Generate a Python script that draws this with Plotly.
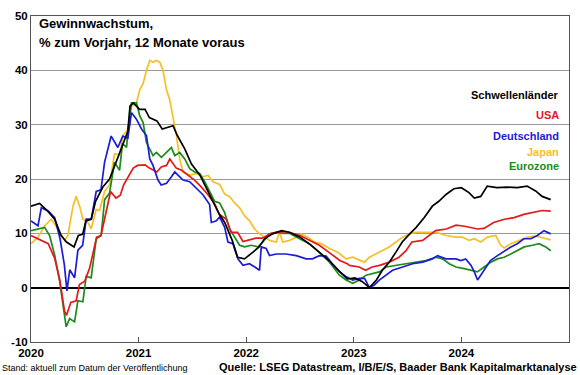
import plotly.graph_objects as go

# ---- data (decimal years, % values) ----
sl_t = [2020.00,2020.08,2020.16,2020.22,2020.28,2020.33,2020.40,2020.44,2020.48,2020.51,2020.56,2020.60,2020.67,2020.73,2020.82,2020.90,2020.92,2020.95,2021.01,2021.06,2021.10,2021.17,2021.22,2021.32,2021.36,2021.43,2021.49,2021.57,2021.63,2021.69,2021.75,2021.80,2021.83,2021.87,2021.92,2021.985,2022.06,2022.12,2022.17,2022.245,2022.33,2022.40,2022.50,2022.59,2022.68,2022.77,2022.87,2022.94,2023.01,2023.08,2023.145,2023.21,2023.265,2023.33,2023.39,2023.45,2023.52,2023.58,2023.655,2023.73,2023.79,2023.86,2023.93,2024.00,2024.07,2024.12,2024.18,2024.24,2024.33,2024.425,2024.52,2024.61,2024.69,2024.75,2024.83]
sl_v = [15.0,15.5,14.0,12.6,9.6,8.4,7.5,9.6,9.8,12.3,12.6,15.9,18.6,20.0,24.6,28.8,33.4,34.0,32.8,32.8,31.3,30.7,29.2,29.8,28.0,25.5,22.8,20.7,18.3,15.9,13.5,12.0,10.5,8.7,5.6,5.3,6.5,7.5,9.0,9.9,10.5,10.2,9.3,8.0,6.5,5.0,2.9,1.6,1.8,1.1,0.0,1.4,3.2,4.7,6.5,8.4,9.9,11.1,12.9,15.0,15.9,17.2,18.2,18.4,17.5,16.5,16.8,18.7,18.4,18.5,18.4,18.7,17.8,16.8,16.2]

us_t = [2020.00,2020.065,2020.16,2020.22,2020.27,2020.31,2020.33,2020.37,2020.42,2020.45,2020.50,2020.545,2020.61,2020.65,2020.70,2020.74,2020.79,2020.83,2020.86,2020.92,2020.95,2020.99,2021.06,2021.10,2021.17,2021.21,2021.26,2021.29,2021.32,2021.35,2021.40,2021.46,2021.52,2021.58,2021.645,2021.71,2021.75,2021.815,2021.86,2021.92,2021.97,2022.03,2022.09,2022.15,2022.22,2022.31,2022.40,2022.50,2022.59,2022.68,2022.77,2022.87,2022.94,2022.96,2023.05,2023.11,2023.17,2023.24,2023.33,2023.42,2023.485,2023.54,2023.64,2023.70,2023.76,2023.86,2023.95,2024.03,2024.09,2024.15,2024.21,2024.30,2024.40,2024.49,2024.58,2024.675,2024.75,2024.83]
us_v = [9.6,9.0,8.1,5.4,1.2,-4.2,-5.1,-2.7,-2.4,0.6,1.2,3.6,9.3,9.6,13.8,17.7,16.5,17.0,18.9,21.0,22.0,22.5,22.6,22.0,21.3,22.2,22.5,23.7,22.8,22.0,21.6,20.7,19.8,18.6,17.1,15.3,13.5,12.6,10.2,10.2,8.5,8.8,9.1,9.1,9.9,10.3,10.2,9.6,8.7,7.8,6.5,5.0,4.4,4.1,3.8,3.2,3.8,4.1,4.7,5.6,6.8,8.4,8.7,9.6,10.5,10.8,11.5,11.3,11.1,10.8,10.9,12.0,12.6,12.9,13.5,13.9,14.2,14.1]

de_t = [2020.00,2020.065,2020.096,2020.16,2020.22,2020.27,2020.31,2020.334,2020.36,2020.405,2020.436,2020.48,2020.513,2020.56,2020.606,2020.65,2020.684,2020.745,2020.807,2020.853,2020.90,2020.934,2020.98,2021.027,2021.073,2021.104,2021.134,2021.18,2021.21,2021.26,2021.305,2021.336,2021.366,2021.413,2021.475,2021.537,2021.598,2021.66,2021.676,2021.723,2021.753,2021.80,2021.83,2021.877,2021.923,2021.97,2022.03,2022.08,2022.124,2022.14,2022.186,2022.217,2022.28,2022.37,2022.465,2022.557,2022.616,2022.68,2022.743,2022.80,2022.866,2022.93,2022.99,2023.05,2023.10,2023.145,2023.19,2023.237,2023.30,2023.36,2023.454,2023.546,2023.64,2023.73,2023.778,2023.856,2023.95,2023.995,2024.04,2024.09,2024.12,2024.15,2024.18,2024.23,2024.27,2024.335,2024.40,2024.46,2024.52,2024.58,2024.645,2024.706,2024.768,2024.83]
de_v = [12.3,11.4,14.7,14.1,12.9,9.0,4.2,-0.6,3.3,1.8,6.9,7.8,12.6,12.6,17.7,18.0,23.1,27.9,25.8,27.9,27.5,32.2,31.0,29.2,28.0,23.7,22.5,19.8,18.9,19.2,20.4,21.3,20.7,19.8,19.5,18.3,17.1,15.3,12.0,12.3,13.0,11.1,8.4,8.1,5.3,4.1,4.4,3.8,3.2,7.5,7.2,5.9,6.2,6.2,5.9,5.3,5.3,5.9,5.8,4.4,3.0,2.0,1.4,1.7,1.7,0.0,0.5,1.4,2.3,3.2,3.8,4.4,4.7,5.3,5.9,5.3,5.3,5.0,5.3,4.1,2.9,1.4,2.3,3.8,5.0,5.9,6.8,7.5,8.1,9.0,9.0,9.6,10.5,9.9]

jp_t = [2020.00,2020.065,2020.127,2020.188,2020.25,2020.313,2020.343,2020.39,2020.42,2020.452,2020.482,2020.529,2020.559,2020.606,2020.637,2020.684,2020.73,2020.776,2020.823,2020.856,2020.90,2020.934,2020.98,2021.011,2021.042,2021.073,2021.104,2021.134,2021.166,2021.197,2021.227,2021.259,2021.289,2021.32,2021.352,2021.382,2021.413,2021.475,2021.537,2021.598,2021.645,2021.691,2021.753,2021.80,2021.846,2021.892,2021.939,2021.985,2022.032,2022.078,2022.124,2022.171,2022.217,2022.279,2022.31,2022.34,2022.403,2022.465,2022.511,2022.572,2022.635,2022.697,2022.774,2022.851,2022.913,2022.929,2022.99,2023.052,2023.099,2023.145,2023.207,2023.268,2023.33,2023.392,2023.454,2023.516,2023.578,2023.671,2023.763,2023.856,2023.949,2024.01,2024.072,2024.119,2024.181,2024.242,2024.319,2024.366,2024.397,2024.459,2024.536,2024.614,2024.691,2024.768,2024.83]
jp_v = [8.1,9.3,11.4,12.6,10.8,8.7,9.6,15.0,16.8,15.0,12.6,12.0,10.8,14.4,14.2,17.7,18.9,24.6,24.5,28.0,29.2,33.4,34.0,36.4,37.6,40.0,41.8,41.5,41.8,41.5,40.0,36.4,34.6,31.6,28.0,23.7,21.3,20.7,21.0,20.4,20.7,19.5,19.0,17.2,16.8,15.6,14.7,13.2,12.3,10.8,9.9,9.3,8.7,8.4,10.2,8.4,8.7,9.3,9.9,9.3,8.4,8.1,7.2,6.5,5.6,5.3,5.6,5.0,4.7,5.6,6.2,6.8,7.5,8.4,9.3,9.9,10.2,10.2,10.2,9.6,9.3,9.3,8.7,9.0,8.4,9.3,9.6,7.8,7.3,8.1,8.7,9.3,9.5,9.1,8.8]

ez_t = [2020.00,2020.065,2020.127,2020.173,2020.22,2020.266,2020.30,2020.327,2020.359,2020.405,2020.436,2020.482,2020.513,2020.559,2020.606,2020.652,2020.684,2020.73,2020.776,2020.823,2020.85,2020.888,2020.903,2020.934,2020.98,2021.011,2021.042,2021.073,2021.104,2021.134,2021.166,2021.212,2021.259,2021.305,2021.336,2021.382,2021.429,2021.475,2021.521,2021.568,2021.614,2021.66,2021.707,2021.753,2021.80,2021.846,2021.892,2021.939,2021.985,2022.047,2022.108,2022.155,2022.217,2022.279,2022.34,2022.403,2022.495,2022.588,2022.681,2022.774,2022.866,2022.929,2022.99,2023.052,2023.114,2023.175,2023.237,2023.30,2023.392,2023.485,2023.578,2023.671,2023.763,2023.825,2023.887,2023.949,2024.026,2024.088,2024.149,2024.211,2024.274,2024.335,2024.397,2024.459,2024.52,2024.583,2024.66,2024.722,2024.784,2024.83]
ez_v = [10.5,10.8,11.1,9.6,6.0,1.2,-3.0,-7.2,-5.7,-6.3,-2.4,-2.6,2.1,1.8,9.0,9.6,16.2,17.4,23.1,21.6,26.5,25.8,29.2,34.0,34.0,31.6,30.4,26.7,25.5,24.3,24.9,24.0,24.9,25.8,24.3,24.9,23.7,21.9,21.3,21.0,19.5,17.7,15.9,15.6,13.8,10.8,9.3,7.8,7.5,7.8,7.5,8.4,9.9,10.2,10.0,10.0,9.0,8.1,6.5,4.7,2.3,1.4,0.8,1.4,2.3,2.6,2.9,3.8,4.1,4.4,4.7,5.0,5.6,5.3,4.4,3.8,3.5,3.2,2.9,3.8,4.7,5.3,5.6,6.2,6.8,7.5,7.8,8.1,7.5,6.8]

series_names = ["Schwellenländer", "USA", "Deutschland", "Japan", "Eurozone"]
series_colors = ["#000000", "#e3191c", "#1c1cd2", "#f5c026", "#1c8a1c"]
series_data = [(sl_t, sl_v), (us_t, us_v), (de_t, de_v), (jp_t, jp_v), (ez_t, ez_v)]

x_ticks = [2020, 2021, 2022, 2023, 2024, 2025]
x_labels = ["2020", "2021", "2022", "2023", "2024", ""]
y_ticks = [-10, 0, 10, 20, 30, 40, 50]

FONT = "Liberation Sans, Arial, sans-serif"

fig = go.Figure()
order = [3, 4, 1, 2, 0]
for i in order:
    t, v = series_data[i]
    fig.add_trace(go.Scatter(x=t, y=v, mode="lines", name=series_names[i],
                             line=dict(color=series_colors[i], width=1.7),
                             showlegend=False, hoverinfo="skip"))

L, R, T, B = 31, 10, 10, 33
W, H = 580, 375
pw, ph = W - L - R, H - T - B

def px(xp):
    return (xp - L) / pw

def py(yp):
    return (H - B - yp) / ph

annotations = []
annotations.append(dict(text="<b>Gewinnwachstum,</b>", x=px(37), y=py(18), xref="paper", yref="paper",
                        xanchor="left", yanchor="middle", showarrow=False,
                        font=dict(family=FONT, size=13, color="#000")))
annotations.append(dict(text="<b>% zum Vorjahr, 12 Monate voraus</b>", x=px(37), y=py(37), xref="paper", yref="paper",
                        xanchor="left", yanchor="middle", showarrow=False,
                        font=dict(family=FONT, size=13, color="#000")))
leg_y = [90, 111, 132, 148, 163]
for name, col, yy in zip(series_names, series_colors, leg_y):
    annotations.append(dict(text="<b>" + name + "</b>", x=px(562), y=py(yy), xref="paper", yref="paper",
                            xanchor="right", yanchor="middle", showarrow=False,
                            font=dict(family=FONT, size=11, color=col)))
annotations.append(dict(text="Stand: aktuell zum Datum der Veröffentlichung", x=px(0), y=py(368.5),
                        xref="paper", yref="paper", xanchor="left", yanchor="middle", showarrow=False,
                        font=dict(family=FONT, size=9, color="#000")))
annotations.append(dict(text="<b>Quelle: LSEG Datastream, I/B/E/S, Baader Bank Kapitalmarktanalyse</b>", x=px(580), y=py(367),
                        xref="paper", yref="paper", xanchor="right", yanchor="middle", showarrow=False,
                        font=dict(family=FONT, size=11, color="#000")))

fig.update_layout(
    width=W, height=H,
    margin=dict(l=L, r=R, t=T, b=B),
    paper_bgcolor="white", plot_bgcolor="white",
    font=dict(family=FONT, size=12, color="#000"),
    annotations=annotations,
    xaxis=dict(range=[2020, 2025], tickvals=x_ticks, ticktext=["<b>%s</b>" % s for s in x_labels],
               showgrid=False, zeroline=False, showline=True, linecolor="#555", linewidth=1,
               mirror=True, ticks="inside", ticklen=5, tickcolor="#555",
               tickfont=dict(family=FONT, size=11.5, color="#000")),
    yaxis=dict(range=[-10, 50], tickvals=y_ticks, ticktext=["<b>%d</b>" % v for v in y_ticks],
               showgrid=True, gridcolor="#999", gridwidth=1.3,
               zeroline=True, zerolinecolor="#000", zerolinewidth=2,
               showline=True, linecolor="#555", linewidth=1, mirror=True, ticks="",
               tickfont=dict(family=FONT, size=11.5, color="#000")),
)

fig.write_html("out.html", config={"displayModeBar": False},
               post_script="document.body.style.margin='0';document.body.style.padding='0';document.body.style.overflow='hidden';")
